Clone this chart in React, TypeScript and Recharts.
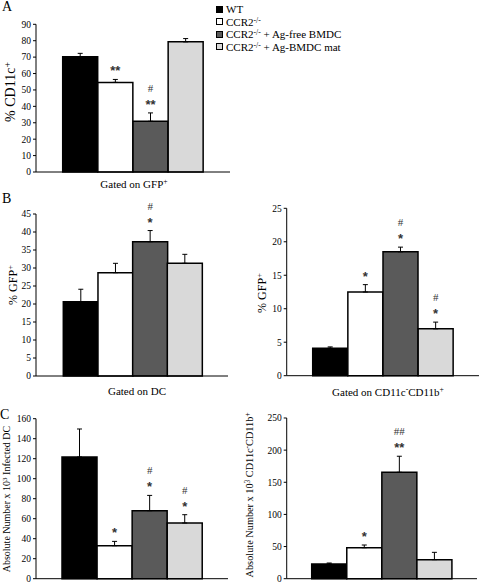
import React from 'react'
import { BarChart, Bar, XAxis, YAxis, ErrorBar, Cell } from 'recharts'

const GROUPS = ['WT', 'CCR2-/-', 'CCR2-/- + Ag-free BMDC', 'CCR2-/- + Ag-BMDC mat']
const FILLS = ['#000000', '#ffffff', '#5a5a5a', '#d9d9d9']

// A: % CD11c+ gated on GFP+
const A_VALUES = [70.2, 54.6, 30.9, 79.3]
const A_ERRORS = [2.1, 1.8, 5.1, 2.0]
const A_MARKS = ['', '**', '#\n**', '']
const A_TICKS = [0, 10, 20, 30, 40, 50, 60, 70, 80, 90]

// B left: % GFP+ gated on DC
const BL_VALUES = [20.6, 28.7, 37.3, 31.3]
const BL_ERRORS = [3.5, 2.6, 3.1, 2.5]
const BL_MARKS = ['', '', '#\n*', '']
const BL_TICKS = [0, 5, 10, 15, 20, 25, 30, 35, 40, 45]

// B right: % GFP+ gated on CD11c-CD11b+
const BR_VALUES = [4.1, 12.5, 18.5, 7.0]
const BR_ERRORS = [0.2, 1.1, 0.7, 1.0]
const BR_MARKS = ['', '*', '#\n*', '#\n*']
const BR_TICKS = [0, 5, 10, 15, 20, 25]

// C left: absolute number x 10^3 infected DC
const CL_VALUES = [121.7, 33.0, 68.0, 55.7]
const CL_ERRORS = [28.0, 4.3, 15.3, 8.3]
const CL_MARKS = ['', '*', '#\n*', '#\n*']
const CL_TICKS = [0, 20, 40, 60, 80, 100, 120, 140, 160]

// C right: absolute number x 10^3 CD11c-CD11b+
const CR_VALUES = [22.8, 48.2, 165.5, 29.6]
const CR_ERRORS = [1.6, 4.2, 25.0, 11.4]
const CR_MARKS = ['', '*', '##\n**', '']
const CR_TICKS = [0, 50, 100, 150, 200, 250]

const SERIF = '"Liberation Serif", "Times New Roman", serif'
const SANS = '"Liberation Sans", Arial, sans-serif'

type PanelProps = {
  id: string
  left: number
  top: number
  width: number
  height: number
  marginTop: number
  axisWidth: number
  padLeft: number
  padRight: number
  values: number[]
  errors: number[]
  marks: string[]
  ticks: number[]
}

function Panel(p: PanelProps) {
  const data = GROUPS.map((g, i) => ({
    group: g,
    value: p.values[i],
    err: [0, p.errors[i]],
    mark: p.marks[i],
  }))
  const domain = [0, p.ticks[p.ticks.length - 1]]
  const margin = { top: p.marginTop, right: 0, left: 0, bottom: 0 }

  // significance marks, drawn above each error bar in a separate layer
  const renderMarks = (props: any) => {
    const { x, y, width, height, index } = props
    const mark = p.marks[index] || ''
    if (!mark) return <g />
    const pxPerUnit = height / p.values[index]
    const errTop = y - p.errors[index] * pxPerUnit
    const lines = mark.split('\n').reverse()
    const cx = x + width / 2
    return (
      <g>
        {lines.map((s, k) => {
          const center = errTop - 12 - k * 12.5
          const star = s.includes('*')
          return (
            <text
              key={k}
              x={cx}
              y={star ? center + 8 : center + 3.5}
              textAnchor="middle"
              fontFamily={star ? SANS : SERIF}
              fontWeight={star ? 'bold' : 'normal'}
              fontSize={star ? 13 : 11}
              fill="#333"
            >
              {s}
            </text>
          )
        })}
      </g>
    )
  }

  return (
    <>
      <div style={{ position: 'absolute', left: p.left, top: p.top, zIndex: 2 }}>
        <BarChart
          id={p.id}
          width={p.width}
          height={p.height}
          data={data}
          margin={margin}
          barCategoryGap={0}
        >
          <XAxis
            dataKey="group"
            tick={false}
            tickLine={false}
            height={4}
            padding={{ left: p.padLeft, right: p.padRight }}
            axisLine={{ stroke: '#000', strokeWidth: 1 }}
          />
          <YAxis
            type="number"
            width={p.axisWidth}
            domain={domain}
            ticks={p.ticks}
            interval={0}
            tickSize={3}
            tickMargin={2}
            axisLine={{ stroke: '#000', strokeWidth: 1 }}
            tickLine={{ stroke: '#000' }}
            tick={{ fontSize: 9.5, fontFamily: SERIF, fill: '#000' }}
          />
          <Bar dataKey="value" stroke="#000" strokeWidth={1.5} isAnimationActive={false}>
            {data.map((_, i) => (
              <Cell key={`cell-${i}`} fill={FILLS[i]} />
            ))}
            <ErrorBar dataKey="err" width={2.5} stroke="#000" strokeWidth={1} direction="y" />
          </Bar>
        </BarChart>
      </div>
      <div style={{ position: 'absolute', left: p.left, top: p.top, zIndex: 3, pointerEvents: 'none' }}>
        <BarChart
          id={`${p.id}-marks`}
          width={p.width}
          height={p.height}
          data={data}
          margin={margin}
          barCategoryGap={0}
        >
          <XAxis
            dataKey="group"
            tick={false}
            tickLine={false}
            axisLine={false}
            height={4}
            padding={{ left: p.padLeft, right: p.padRight }}
          />
          <YAxis
            type="number"
            width={p.axisWidth}
            domain={domain}
            ticks={p.ticks}
            tick={false}
            tickLine={false}
            axisLine={false}
          />
          <Bar dataKey="value" shape={renderMarks} isAnimationActive={false} />
        </BarChart>
      </div>
    </>
  )
}

const abs = (left: number, top: number, extra: React.CSSProperties = {}): React.CSSProperties => ({
  position: 'absolute',
  left,
  top,
  whiteSpace: 'nowrap',
  zIndex: 1,
  ...extra,
})

const vlabel = (cx: number, cy: number, size: number): React.CSSProperties =>
  abs(cx, cy, { fontSize: size, lineHeight: 1, transform: 'translate(-50%, -50%) rotate(-90deg)' })

const hlabel = (cx: number, cy: number, size: number): React.CSSProperties =>
  abs(cx, cy, { fontSize: size, lineHeight: 1, transform: 'translate(-50%, -50%)' })

const supStyle: React.CSSProperties = { fontSize: '0.7em', verticalAlign: '0.45em', lineHeight: 0 }

function GroupKey() {
  const rows = [
    <>WT</>,
    <>CCR2<sup style={supStyle}>-/-</sup></>,
    <>CCR2<sup style={supStyle}>-/-</sup> + Ag-free BMDC</>,
    <>CCR2<sup style={supStyle}>-/-</sup> + Ag-BMDC mat</>,
  ]
  const centers = [9, 21.5, 34, 46.5]
  return (
    <>
      {rows.map((r, i) => (
        <React.Fragment key={i}>
          <div
            style={abs(216, centers[i] - 3.5, {
              width: 7,
              height: 7,
              boxSizing: 'border-box',
              border: '1px solid #000',
              background: FILLS[i],
            })}
          />
          <div style={abs(226, centers[i] - 6, { fontSize: 11, lineHeight: '12px' })}>{r}</div>
        </React.Fragment>
      ))}
    </>
  )
}

export default function App() {
  return (
    <div
      style={{
        position: 'absolute',
        left: 0,
        top: 0,
        width: 480,
        height: 583,
        background: '#fff',
        fontFamily: SERIF,
        color: '#000',
        overflow: 'hidden',
      }}
    >
      <Panel
        id="panel-a" left={0} top={1} width={230} height={175} marginTop={23.3} axisWidth={36}
        padLeft={26.7} padRight={26.7}
        values={A_VALUES} errors={A_ERRORS} marks={A_MARKS} ticks={A_TICKS}
      />
      <Panel
        id="panel-bl" left={0} top={190} width={228} height={190} marginTop={24} axisWidth={36}
        padLeft={27.3} padRight={26}
        values={BL_VALUES} errors={BL_ERRORS} marks={BL_MARKS} ticks={BL_TICKS}
      />
      <Panel
        id="panel-br" left={240} top={190} width={239} height={189.7} marginTop={18.3} axisWidth={46.7}
        padLeft={26} padRight={25.7}
        values={BR_VALUES} errors={BR_ERRORS} marks={BR_MARKS} ticks={BR_TICKS}
      />
      <Panel
        id="panel-cl" left={0} top={400} width={228} height={182.7} marginTop={18.7} axisWidth={36}
        padLeft={26} padRight={25.7}
        values={CL_VALUES} errors={CL_ERRORS} marks={CL_MARKS} ticks={CL_TICKS}
      />
      <Panel
        id="panel-cr" left={240} top={400} width={237} height={182.7} marginTop={18} axisWidth={46.7}
        padLeft={25} padRight={25}
        values={CR_VALUES} errors={CR_ERRORS} marks={CR_MARKS} ticks={CR_TICKS}
      />

      <div style={abs(2, -1, { fontSize: 14 })}>A</div>
      <div style={abs(2, 191, { fontSize: 14 })}>B</div>
      <div style={abs(0, 407, { fontSize: 14 })}>C</div>

      <GroupKey />

      <div style={vlabel(11, 92, 14)}>% CD11c<sup style={supStyle}>+</sup></div>
      <div style={vlabel(12.5, 285, 12)}>% GFP<sup style={supStyle}>+</sup></div>
      <div style={vlabel(262, 293, 12)}>% GFP<sup style={supStyle}>+</sup></div>
      <div style={vlabel(7, 499, 10)}>
        Absolute Number x 10<sup style={supStyle}>3</sup> Infected DC
      </div>
      <div style={vlabel(250, 495, 10.3)}>
        Absolute Number x 10<sup style={supStyle}>3</sup> CD11c<sup style={supStyle}>-</sup>CD11b
        <sup style={supStyle}>+</sup>
      </div>

      <div style={hlabel(134, 184, 11)}>Gated on GFP<sup style={supStyle}>+</sup></div>
      <div style={hlabel(137, 391, 11)}>Gated on DC</div>
      <div style={hlabel(388, 392, 11)}>
        Gated on CD11c<sup style={supStyle}>-</sup>CD11b<sup style={supStyle}>+</sup>
      </div>
    </div>
  )
}
